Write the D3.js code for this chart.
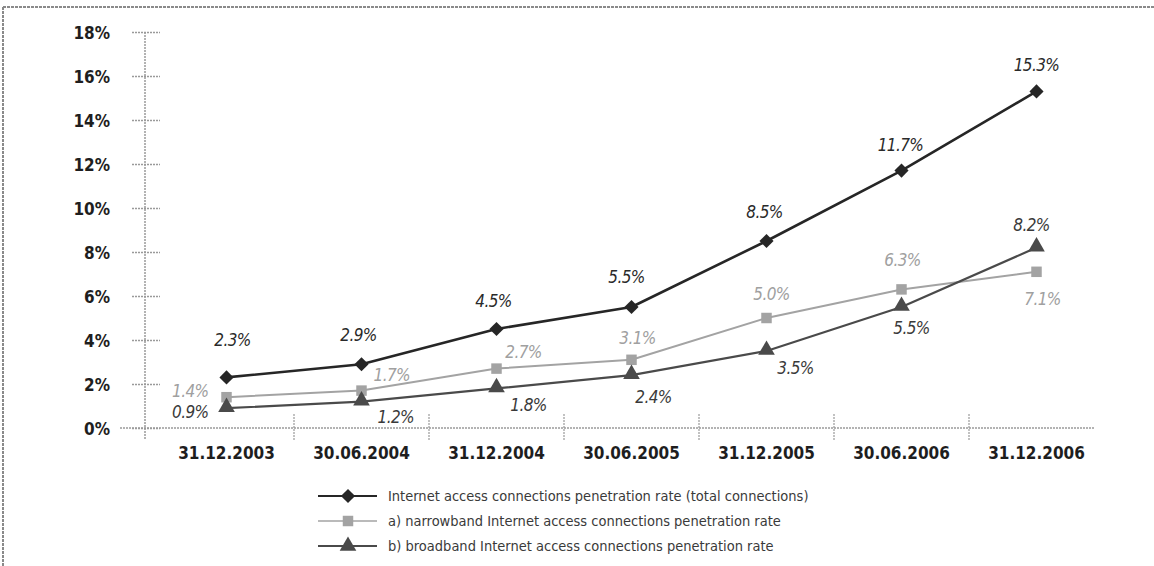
<!DOCTYPE html>
<html>
<head>
<meta charset="utf-8">
<script src="https://cdn.jsdelivr.net/npm/d3@7"></script>
<style>
  html, body { margin: 0; padding: 0; background: #fff; }
  svg { display: block; }
  .ylab text, .xlab text { font-family: "DejaVu Sans Condensed", "DejaVu Sans", sans-serif; font-weight: bold; font-size: 17px; fill: #1e1e1e; }
  .vlabel { font-family: "DejaVu Sans Condensed", "DejaVu Sans", sans-serif; font-style: italic; font-size: 17px; letter-spacing: -0.6px; }
  .legend text { font-family: "DejaVu Sans Condensed", "DejaVu Sans", sans-serif; font-size: 14.5px; fill: #3a3a3a; }
</style>
</head>
<body>
<svg id="chart" width="1154" height="566"></svg>
<script>
// Penetration rates of Internet access connections, by reporting date (%)
const dates = ["31.12.2003", "30.06.2004", "31.12.2004", "30.06.2005", "31.12.2005", "30.06.2006", "31.12.2006"];
const totalRate = [2.3, 2.9, 4.5, 5.5, 8.5, 11.7, 15.3];
const narrowbandRate = [1.4, 1.7, 2.7, 3.1, 5.0, 6.3, 7.1];
const broadbandRate = [0.9, 1.2, 1.8, 2.4, 3.5, 5.5, 8.2];
const yTicks = [0, 2, 4, 6, 8, 10, 12, 14, 16, 18];
const seriesNames = [
  "Internet access connections penetration rate (total connections)",
  "a) narrowband Internet access connections penetration rate",
  "b) broadband Internet access connections penetration rate"
];

// Where each value label sits relative to its point: [dx, dy, anchor]
const totalLabelPos = [[6,-31,"middle"],[-3,-23,"middle"],[-3,-22,"middle"],[-5,-24,"middle"],[-2,-23,"middle"],[-1,-20,"middle"],[0,-20,"middle"]];
const narrowLabelPos = [[-18,0,"end"],[12,-10,"start"],[27,-11,"middle"],[6,-16,"middle"],[5,-18,"middle"],[1,-23,"middle"],[6,33,"middle"]];
const broadLabelPos = [[-18,10,"end"],[16,21,"start"],[32,23,"middle"],[22,28,"middle"],[29,23,"middle"],[10,27,"middle"],[-5,-17,"middle"]];

const svg = d3.select("#chart");

// frame lines along the top and left edge
svg.append("line").attr("x1", 3).attr("x2", 1154).attr("y1", 7).attr("y2", 7)
  .attr("stroke", "#8a8a8a").attr("stroke-width", 2).attr("stroke-dasharray", "3,1");
svg.append("line").attr("x1", 3).attr("x2", 3).attr("y1", 7).attr("y2", 566)
  .attr("stroke", "#8a8a8a").attr("stroke-width", 2).attr("stroke-dasharray", "3,1");

const x = d3.scaleBand().domain(dates).range([159, 1104]).paddingInner(0).paddingOuter(0);
const cx = d => x(d) + x.bandwidth() / 2;
const y = d3.scaleLinear().domain([0, 18]).range([428, 32]);

const axisColor = "#9a9a9a";

// y axis
const yAxisG = svg.append("g").attr("class", "ylab").attr("transform", "translate(145,0)")
  .call(d3.axisLeft(y).tickValues(yTicks).tickFormat(d => d + "%").tickSizeInner(13).tickSizeOuter(0).tickPadding(22));
yAxisG.select(".domain").remove();
yAxisG.selectAll(".tick line").attr("x1", -13).attr("x2", 15).attr("stroke", axisColor).attr("stroke-width", 1.3)
  .attr("stroke-dasharray", "2,1");
yAxisG.selectAll(".tick text").attr("dy", "0.36em");
svg.append("line").attr("x1", 145).attr("x2", 145).attr("y1", y(18)).attr("y2", 440)
  .attr("stroke", axisColor).attr("stroke-width", 1.5).attr("stroke-dasharray", "2,1");

// x axis
svg.append("line").attr("x1", 120).attr("x2", 1094).attr("y1", y(0)).attr("y2", y(0))
  .attr("stroke", axisColor).attr("stroke-width", 1.5).attr("stroke-dasharray", "2,1");
svg.append("g").selectAll("line").data(dates.slice(1)).join("line")
  .attr("x1", d => x(d)).attr("x2", d => x(d)).attr("y1", 414).attr("y2", 440)
  .attr("stroke", axisColor).attr("stroke-width", 1.2).attr("stroke-dasharray", "2,1");
const xAxisG = svg.append("g").attr("class", "xlab").attr("transform", "translate(0,428)")
  .call(d3.axisBottom(x).tickSize(0).tickPadding(19));
xAxisG.select(".domain").remove();

// series
const series = [
  { values: narrowbandRate, color: "#a3a3a3", width: 2, marker: "square", labelColor: "#a0a0a0", pos: narrowLabelPos },
  { values: broadbandRate, color: "#4a4a4a", width: 2.2, marker: "triangle", labelColor: "#3a3a3a", pos: broadLabelPos },
  { values: totalRate, color: "#262626", width: 2.6, marker: "diamond", labelColor: "#2a2a2a", pos: totalLabelPos }
];

const symbolFor = {
  diamond: d3.symbol().type(d3.symbolSquare).size(100),
  square: d3.symbol().type(d3.symbolSquare).size(110),
  triangle: d3.symbol().type(d3.symbolTriangle).size(120)
};

const line = d3.line().x((d, i) => cx(dates[i])).y(d => y(d));

series.forEach(s => {
  const g = svg.append("g");
  g.append("path").datum(s.values).attr("d", line).attr("fill", "none")
    .attr("stroke", s.color).attr("stroke-width", s.width).attr("stroke-linejoin", "round");
  g.selectAll("path.mk").data(s.values).join("path").attr("class", "mk")
    .attr("d", symbolFor[s.marker])
    .attr("transform", (d, i) => `translate(${cx(dates[i])},${y(d) + (s.marker === "triangle" ? -1 : 0)})` + (s.marker === "diamond" ? " rotate(45)" : ""))
    .attr("fill", s.color);
  g.selectAll("text").data(s.values).join("text").attr("class", "vlabel")
    .attr("x", (d, i) => cx(dates[i]) + s.pos[i][0])
    .attr("y", (d, i) => y(d) + s.pos[i][1])
    .attr("text-anchor", (d, i) => s.pos[i][2])
    .attr("fill", s.labelColor)
    .text(d => d.toFixed(1) + "%");
});

// legend
const legendRows = [
  { name: seriesNames[0], color: "#262626", width: 2, marker: "diamond" },
  { name: seriesNames[1], color: "#a3a3a3", width: 1.6, marker: "square" },
  { name: seriesNames[2], color: "#4a4a4a", width: 2, marker: "triangle" }
];
const legend = svg.append("g").attr("class", "legend");
legendRows.forEach((r, i) => {
  const ly = 496 + i * 25;
  legend.append("line").attr("x1", 318).attr("x2", 377).attr("y1", ly).attr("y2", ly)
    .attr("stroke", r.color).attr("stroke-width", r.width);
  legend.append("path").attr("d", symbolFor[r.marker])
    .attr("transform", `translate(348,${ly})` + (r.marker === "diamond" ? " rotate(45)" : ""))
    .attr("fill", r.color);
  legend.append("text").attr("x", 388).attr("y", ly + 5).text(r.name);
});
</script>
</body>
</html>
